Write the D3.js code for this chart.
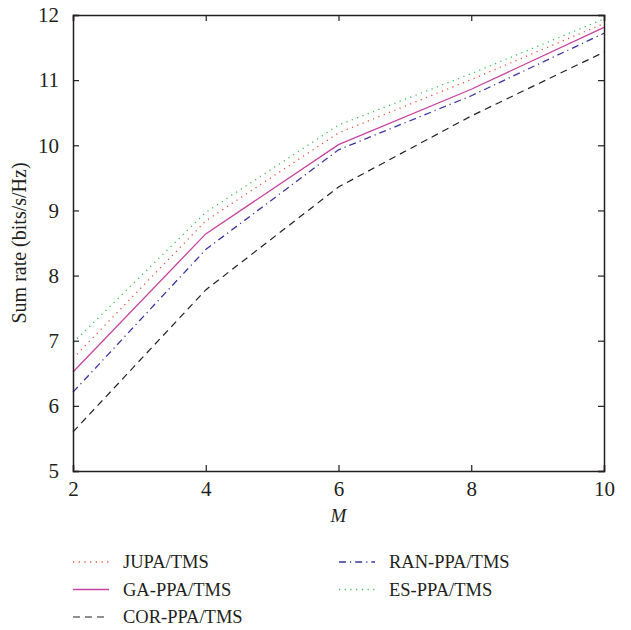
<!DOCTYPE html>
<html>
<head>
<meta charset="utf-8">
<script src="https://cdn.jsdelivr.net/npm/d3@7"></script>
<style>
  body { margin: 0; background: #fff; }
  svg text { font-family: 'Liberation Serif', 'DejaVu Serif', serif; fill: #231f20; }
</style>
</head>
<body>
<svg id="chart" width="631" height="630"></svg>
<script>
const mValues = [2, 4, 6, 8, 10];
const jupa = [6.73, 8.84, 10.19, 11.01, 11.87];
const gaPpa = [6.52, 8.64, 10.01, 10.86, 11.81];
const corPpa = [5.6, 7.78, 9.36, 10.45, 11.43];
const ranPpa = [6.21, 8.4, 9.93, 10.76, 11.72];
const esPpa = [6.97, 8.97, 10.31, 11.1, 11.94];
const xTicks = [2, 4, 6, 8, 10];
const yTicks = [5, 6, 7, 8, 9, 10, 11, 12];

const series = [
  { name: 'JUPA/TMS', values: jupa, color: '#f0503a', dash: '1.2,4.5', width: 1.3 },
  { name: 'GA-PPA/TMS', values: gaPpa, color: '#c8439f', dash: null, width: 1.3 },
  { name: 'COR-PPA/TMS', values: corPpa, color: '#231f20', dash: '7,5', width: 1.2 },
  { name: 'RAN-PPA/TMS', values: ranPpa, color: '#3a36a0', dash: '7,4,1.2,4', width: 1.3 },
  { name: 'ES-PPA/TMS', values: esPpa, color: '#3cc050', dash: '1.2,4.5', width: 1.3 },
];

const svg = d3.select('#chart');
const margin = { top: 15, right: 27, bottom: 159, left: 73 };
const width = +svg.attr('width');
const height = +svg.attr('height');
const x0 = margin.left, x1 = width - margin.right;
const y0 = height - margin.bottom, y1 = margin.top;

const xScale = d3.scaleLinear().domain([2, 10]).range([x0, x1]);
const yScale = d3.scaleLinear().domain([5, 12]).range([y0, y1]);

const line = d3
  .line()
  .x((d, i) => xScale(mValues[i]))
  .y(d => yScale(d));

series.forEach(s => {
  svg
    .append('path')
    .datum(s.values)
    .attr('d', line)
    .attr('fill', 'none')
    .attr('stroke', s.color)
    .attr('stroke-width', s.width)
    .attr('stroke-dasharray', s.dash);
});

// axes with inward ticks
const tickLen = 6;
const xAxis = d3.axisBottom(xScale).tickValues(xTicks).tickSize(-tickLen).tickPadding(10).tickFormat(d3.format('d'));
const yAxis = d3.axisLeft(yScale).tickValues(yTicks).tickSize(-tickLen).tickPadding(14).tickFormat(d3.format('d'));

const gx = svg.append('g').attr('transform', 'translate(0,' + y0 + ')').call(xAxis);
const gy = svg.append('g').attr('transform', 'translate(' + x0 + ',0)').call(yAxis);
const gxTop = svg.append('g').attr('transform', 'translate(0,' + y1 + ')')
  .call(d3.axisTop(xScale).tickValues(xTicks).tickSize(-tickLen).tickFormat(''));
const gyRight = svg.append('g').attr('transform', 'translate(' + x1 + ',0)')
  .call(d3.axisRight(yScale).tickValues(yTicks).tickSize(-tickLen).tickFormat(''));

[gx, gy, gxTop, gyRight].forEach(g => {
  g.attr('font-size', 21).attr('font-family', null);
  g.select('.domain').attr('stroke', '#231f20').attr('stroke-width', 1.5);
  g.selectAll('.tick line').attr('stroke', '#231f20').attr('stroke-width', 1.2);
  g.selectAll('.tick text').style('font-size', '21px').attr('fill', '#231f20');
});

svg
  .append('text')
  .attr('transform', 'rotate(-90)')
  .attr('x', -(y0 + y1) / 2)
  .attr('y', 26)
  .style('text-anchor', 'middle')
  .style('font-size', '20px')
  .text('Sum rate (bits/s/Hz)');

svg
  .append('text')
  .attr('x', (x0 + x1) / 2)
  .attr('y', 522)
  .style('text-anchor', 'middle')
  .style('font-size', '19px')
  .style('font-style', 'italic')
  .text('M');

// legend
const legendPos = [
  { col: 0, row: 0 },
  { col: 0, row: 1 },
  { col: 0, row: 2 },
  { col: 1, row: 0 },
  { col: 1, row: 1 },
];
const legend = svg.append('g');
series.forEach((s, i) => {
  const lx = legendPos[i].col === 0 ? 73 : 339;
  const ly = 562 + legendPos[i].row * 27.5;
  legend
    .append('line')
    .attr('x1', lx)
    .attr('x2', lx + 36)
    .attr('y1', ly)
    .attr('y2', ly)
    .attr('stroke', s.color)
    .attr('stroke-width', s.width)
    .attr('stroke-dasharray', s.dash);
  legend
    .append('text')
    .attr('x', lx + 50)
    .attr('y', ly + 6)
    .style('font-size', '18.5px')
    .text(s.name);
});
</script>
</body>
</html>
